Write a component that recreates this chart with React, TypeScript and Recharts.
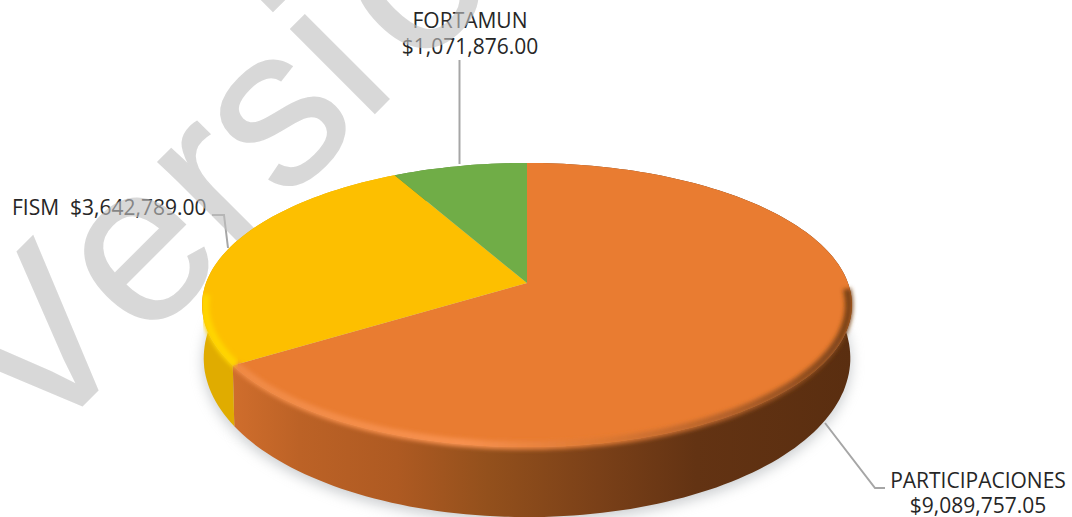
import React from "react";
import { PieChart, Pie } from "recharts";

const categories = ["PARTICIPACIONES", "FISM", "FORTAMUN"];
const amounts = [9089757.05, 3642789.0, 1071876.0];
const amountLabels = ["$9,089,757.05", "$3,642,789.00", "$1,071,876.00"];
const faceColors = ["#E97C31", "#FDBF00", "#70AD47"];
const wallFills = ["url(#wallOrange)", "#E0AC00", "#5C8A3A"];
const rimStrokes = ["url(#rimOrange)", "#FFD500", "#70AD47"];
const rimStarts = [0.03, 0.08, 2];
const watermarkText = "Versión";

const data = categories.map((name, i) => ({ name, value: amounts[i], amountLabel: amountLabels[i] }));

const W = 1072;
const H = 517;
const PX = 527;
const PY = 283;
const R = 321;
const Y_RATIO = 0.432;
const PERSPECTIVE = 0.155;

const fontFamily = "'Open Sans', sans-serif";

type Pt = [number, number, number];

function project(cx: number, cy: number, r: number, deg: number): Pt {
  const a = (deg * Math.PI) / 180;
  const u = Math.cos(a);
  const v = -Math.sin(a);
  const w = 1 - PERSPECTIVE * v;
  return [cx + (r * u) / w, cy + (r * Y_RATIO * v) / w, v];
}

function arc(cx: number, cy: number, r: number, start: number, end: number): Pt[] {
  const n = Math.max(2, Math.ceil(Math.abs(end - start) / 1.5));
  const pts: Pt[] = [];
  for (let i = 0; i <= n; i++) pts.push(project(cx, cy, r, start + ((end - start) * i) / n));
  return pts;
}

const lower = (p: Pt): Pt => [PX + (p[0] - PX) * 0.995, p[1] + 50 + 20 * p[2], p[2]];
const toD = (pts: Pt[]) => pts.map((p, i) => `${i ? "L" : "M"}${p[0].toFixed(1)} ${p[1].toFixed(1)}`).join(" ");

const idx = (p: any) => categories.indexOf(p.payload?.name ?? p.name);

function ShadowShape(p: any) {
  const pts = arc(p.cx, p.cy, p.outerRadius, p.startAngle, p.endAngle).map(lower);
  const shifted = pts.map((q) => [q[0], q[1] + 4, q[2]] as Pt);
  return <path d={`${toD(shifted)} L${p.cx} ${p.cy + 60} Z`} fill="#8f9499" opacity={0.5} filter="url(#soft)" />;
}

function WallShape(p: any) {
  const top = arc(p.cx, p.cy, p.outerRadius, p.startAngle, p.endAngle);
  const bottom = top.map(lower).reverse();
  return <path d={`${toD(top)} ${toD(bottom).replace("M", "L")} Z`} fill={wallFills[idx(p)]} />;
}

function FaceShape(p: any) {
  const pts = arc(p.cx, p.cy, p.outerRadius, p.startAngle, p.endAngle);
  return <path d={`M${p.cx} ${p.cy} ${toD(pts).replace("M", "L")} Z`} fill={faceColors[idx(p)]} />;
}

function RimShape(p: any) {
  const i = idx(p);
  const pts = arc(p.cx, p.cy, p.outerRadius - 3, p.startAngle, p.endAngle).filter((q) => q[2] > rimStarts[i]);
  if (pts.length < 2) return null;
  return <path d={toD(pts)} fill="none" stroke={rimStrokes[i]} strokeWidth={8} filter="url(#rimBlur)" />;
}

function WatermarkShape(p: any) {
  if (idx(p) !== 0) return null;
  return (
    <text
      x={37}
      y={451}
      transform="rotate(-45 37 451)"
      fontFamily="'Liberation Sans', sans-serif"
      fontSize={225}
      stroke="rgb(193,193,193)"
      strokeWidth={1.5}
      fill="rgb(193,193,193)"
      opacity={0.61}
      style={{ fontKerning: "none" }}
    >
      {watermarkText.slice(0, 5)}
      <tspan dx={22}>{watermarkText.slice(5)}</tspan>
    </text>
  );
}

const labelStyle = { fontFamily, fontSize: 21, fill: "#262626", whiteSpace: "pre" as const };
const leaderStyle = { fill: "none", stroke: "#a6a6a6", strokeWidth: 2 };

function SliceLabel(p: any) {
  const i = idx(p);
  if (i === 0) {
    return (
      <g>
        <polyline points="825,423 875,488 885,488" style={leaderStyle} />
        <text x={978} y={488} textAnchor="middle" style={labelStyle}>{categories[0]}</text>
        <text x={978} y={513} textAnchor="middle" style={labelStyle}>{amountLabels[0]}</text>
      </g>
    );
  }
  if (i === 1) {
    return (
      <g>
        <polyline points="212,215 224,215 228,248" style={leaderStyle} />
        <text x={12} y={215} style={labelStyle}>{`${categories[1]}  ${amountLabels[1]}`}</text>
      </g>
    );
  }
  return (
    <g>
      <polyline points="459.5,60 459.5,164" style={leaderStyle} />
      <text x={470} y={28} textAnchor="middle" style={labelStyle}>{categories[2]}</text>
      <text x={470} y={54} textAnchor="middle" style={labelStyle}>{amountLabels[2]}</text>
    </g>
  );
}

export default function App() {
  const common = {
    data,
    dataKey: "value",
    nameKey: "name",
    cx: PX,
    cy: PY,
    innerRadius: 0,
    outerRadius: R,
    startAngle: 90,
    endAngle: -270,
    stroke: "none",
    isAnimationActive: false,
    labelLine: false,
  };
  return (
    <div style={{ position: "absolute", left: 0, top: 0, width: W, height: H, background: "#fff" }}>
      <PieChart width={W} height={H} margin={{ top: 0, right: 0, bottom: 0, left: 0 }}>
        <defs>
          <linearGradient id="wallOrange" gradientUnits="userSpaceOnUse" x1="202" y1="0" x2="852" y2="0">
            <stop offset="0.05" stopColor="#CF6D2C" />
            <stop offset="0.15" stopColor="#BC6226" />
            <stop offset="0.3" stopColor="#AE5A22" />
            <stop offset="0.44" stopColor="#93501C" />
            <stop offset="0.61" stopColor="#7A4018" />
            <stop offset="0.76" stopColor="#633313" />
            <stop offset="1" stopColor="#5A2E10" />
          </linearGradient>
          <linearGradient id="rimOrange" gradientUnits="userSpaceOnUse" x1="202" y1="0" x2="852" y2="0">
            <stop offset="0.05" stopColor="#F08A45" />
            <stop offset="0.4" stopColor="#F8914F" />
            <stop offset="0.6" stopColor="#DF7A34" />
            <stop offset="0.8" stopColor="#B5622A" />
            <stop offset="1" stopColor="#7A4218" />
          </linearGradient>
          <filter id="soft" x="-10%" y="-10%" width="120%" height="130%">
            <feGaussianBlur stdDeviation="7" />
          </filter>
          <filter id="rimBlur" x="-5%" y="-20%" width="110%" height="140%">
            <feGaussianBlur stdDeviation="2.2" />
          </filter>
        </defs>
        <Pie {...common} shape={SliceLabel} />
        <Pie {...common} shape={WatermarkShape} />
        <Pie {...common} shape={ShadowShape} />
        <Pie {...common} shape={WallShape} />
        <Pie {...common} shape={FaceShape} />
        <Pie {...common} shape={RimShape} />
      </PieChart>
    </div>
  );
}
